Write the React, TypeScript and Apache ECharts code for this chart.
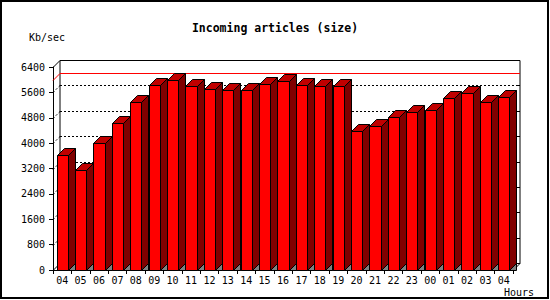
import React, { useEffect, useRef } from "react";
import * as echarts from "echarts";

const hours = ["04","05","06","07","08","09","10","11","12","13","14","15","16","17","18","19","20","21","22","23","00","01","02","03","04"];
const sizeKb = [3625,3160,4000,4625,5288,5824,5981,5792,5697,5675,5675,5855,5950,5824,5792,5792,4373,4550,4815,4972,5035,5414,5571,5288,5445];
const yTicks = [0,800,1600,2400,3200,4000,4800,5600,6400];

const D = 7;
const MONO = "'DejaVu Sans Mono', monospace";

export default function App() {
  const ref = useRef<HTMLDivElement>(null);
  useEffect(() => {
    if (!ref.current) return;
    const chart = echarts.init(ref.current, null, { renderer: "svg" });
    const maxVal = Math.max(...sizeKb);
    chart.setOption({
      animation: false,
      backgroundColor: "#ffffff",
      title: {
        text: "Incoming articles (size)",
        left: "center",
        top: 17,
        textStyle: { fontFamily: MONO, fontWeight: "bold", fontSize: 11.5, color: "#000" },
      },
      grid: { left: 53, right: 37, top: 67, bottom: 30 },
      xAxis: {
        type: "category",
        data: hours,
        axisLine: { lineStyle: { color: "#000", width: 1 } },
        axisTick: { show: true, length: 4, lineStyle: { color: "#000" } },
        axisLabel: { interval: 0, margin: 5, color: "#000", fontFamily: MONO, fontSize: 10 },
        splitLine: { show: false },
      },
      yAxis: {
        type: "value",
        min: 0,
        max: 6400,
        interval: 800,
        axisLine: { show: true, lineStyle: { color: "#000", width: 1 } },
        axisTick: { show: true, length: 4, lineStyle: { color: "#000" } },
        axisLabel: {
          margin: 8,
          color: "#000",
          fontFamily: MONO,
          fontSize: 10,
          formatter: (v: number) => String(v),
        },
        splitLine: { show: false },
      },
      graphic: [
        {
          type: "rect",
          shape: { x: 1, y: 1, width: 547, height: 297 },
          style: { fill: "none", stroke: "#000", lineWidth: 2 },
          silent: true,
        },
        {
          type: "text",
          x: 29,
          y: 37,
          style: { text: "Kb/sec", font: "10px " + MONO, fill: "#000", textVerticalAlign: "middle" },
        },
        {
          type: "text",
          x: 504,
          y: 292,
          style: { text: "Hours", font: "10px " + MONO, fill: "#000", textVerticalAlign: "middle" },
        },
      ],
      series: [
        {
          type: "custom",
          name: "frame",
          z: 1,
          silent: true,
          clip: false,
          data: yTicks.map((v) => [0, v]),
          encode: { x: 0, y: 1 },
          renderItem: (params: any, api: any) => {
            const cs = params.coordSys;
            const x0 = cs.x;
            const x1 = cs.x + cs.width;
            const v = api.value(1);
            const y = Math.round(api.coord([0, v])[1]) + 0.5;
            const children: any[] = [];
            const blk = { stroke: "#000", lineWidth: 1 };
            if (v === 0) {
              const yTop = Math.round(cs.y) + 0.5;
              children.push({
                type: "rect",
                shape: { x: x0 + D, y: yTop - D, width: x1 - x0, height: y - yTop },
                style: { fill: "#fff", ...blk },
              });
              children.push({ type: "line", shape: { x1: x0, y1: yTop, x2: x0 + D, y2: yTop - D }, style: blk });
              children.push({ type: "line", shape: { x1: x0, y1: y, x2: x0 + D, y2: y - D }, style: blk });
              children.push({ type: "line", shape: { x1: x1, y1: y, x2: x1 + D, y2: y - D }, style: blk });
            } else if (v < 6400) {
              const dotted = { stroke: "#000", lineWidth: 1, lineDash: [2, 2] };
              children.push({ type: "line", shape: { x1: x0 + D, y1: y - D, x2: x1 + D, y2: y - D }, style: dotted });
              children.push({ type: "line", shape: { x1: x0, y1: y, x2: x0 + D, y2: y - D }, style: dotted });
              children.push({ type: "line", shape: { x1: x1 + D - 3, y1: y - D, x2: x1 + D, y2: y - D }, style: blk });
            }
            return { type: "group", children };
          },
        },
        {
          type: "custom",
          name: "max",
          z: 1,
          silent: true,
          clip: false,
          data: [[0, maxVal]],
          encode: { x: 0, y: 1 },
          renderItem: (params: any, api: any) => {
            const cs = params.coordSys;
            const x0 = cs.x;
            const x1 = cs.x + cs.width;
            const y = Math.round(api.coord([0, api.value(1)])[1]) + 0.5;
            return {
              type: "polyline",
              shape: { points: [[x0, y], [x0 + D, y - D], [x1 + D, y - D]] },
              style: { stroke: "#ff0000", lineWidth: 1, fill: "none" },
            };
          },
        },
        {
          type: "custom",
          name: "Kb/sec",
          z: 2,
          clip: false,
          data: sizeKb.map((v, i) => [i, v]),
          encode: { x: 0, y: 1 },
          renderItem: (params: any, api: any) => {
            const idx = api.value(0);
            const v = api.value(1);
            const top = api.coord([idx, v]);
            const base = api.coord([idx, 0]);
            const bw = api.size([1, 0])[0] * 0.6;
            const xl = Math.round(top[0] - bw / 2) + 0.5;
            const xr = Math.round(top[0] + bw / 2) + 0.5;
            const yt = Math.round(top[1]) + 0.5;
            const yb = Math.round(base[1]) + 0.5;
            const st = { stroke: "#000", lineWidth: 1 };
            return {
              type: "group",
              children: [
                {
                  type: "polygon",
                  shape: { points: [[xr, yb], [xr + D, yb - D], [xr + D, yb]] },
                  style: { fill: "#808080", ...st },
                },
                {
                  type: "polygon",
                  shape: { points: [[xr, yt], [xr + D, yt - D], [xr + D, yb - D], [xr, yb]] },
                  style: { fill: "#800000", ...st },
                },
                {
                  type: "polygon",
                  shape: { points: [[xl, yt], [xl + D, yt - D], [xr + D, yt - D], [xr, yt]] },
                  style: { fill: "#c00000", ...st },
                },
                {
                  type: "rect",
                  shape: { x: xl, y: yt, width: xr - xl, height: yb - yt },
                  style: { fill: "#ff0000", ...st },
                },
              ],
            };
          },
        },
      ],
    });
    return () => chart.dispose();
  }, []);
  return (
    <div
      ref={ref}
      style={{ position: "absolute", left: 0, top: 0, width: 550, height: 300 }}
    />
  );
}
